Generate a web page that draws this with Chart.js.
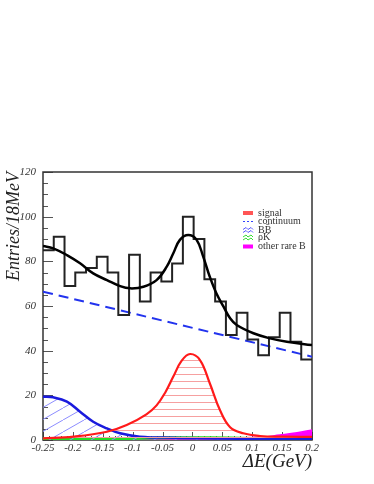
<!DOCTYPE html>
<html>
<head>
<meta charset="utf-8">
<script src="https://cdn.jsdelivr.net/npm/chart.js@4"></script>
<style>
  body { margin: 0; background: #fff; }
  #c { display: block; }
</style>
</head>
<body>
<canvas id="c" width="374" height="484"></canvas>
<script>
// histogram: 25 bins of 18 MeV from -0.25 to 0.2
const binStart = -0.25;
const binWidth = 0.018;
const counts = [85, 91, 69, 75, 77, 82, 75, 56, 83, 62, 75, 71, 79, 100, 90, 72, 62, 47, 57, 45, 38, 46, 57, 44, 36];

// fit components
const totalX = [-0.25, -0.233, -0.21, -0.188, -0.166, -0.143, -0.121, -0.104, -0.082, -0.06, -0.043, -0.032, -0.021, -0.007, 0.007, 0.018, 0.029, 0.04, 0.052, 0.063, 0.074, 0.102, 0.13, 0.158, 0.2];
const totalY = [86.9, 85.8, 82.8, 79.1, 74.6, 71.6, 68.9, 67.9, 68.6, 71.6, 77.6, 83.6, 89.6, 91.8, 89.6, 82.1, 73.1, 65.7, 59.7, 54.5, 51.5, 47.8, 45.5, 44, 42.5];

const contX = [-0.25, 0.2];
const contY = [66.4, 37.3];

const sigX = [-0.25, -0.199, -0.143, -0.11, -0.077, -0.06, -0.045, -0.032, -0.018, -0.004, 0.0126, 0.029, 0.046, 0.063, 0.085, 0.113, 0.15, 0.2];
const sigY = [0.7, 1.5, 3.7, 6.7, 11.5, 15.5, 21.5, 28.4, 35.5, 38.5, 35.8, 25.4, 13.4, 5.7, 3, 1.8, 1.5, 1.4];

const bbX = [-0.25, -0.233, -0.21, -0.188, -0.166, -0.143, -0.121, -0.088, -0.032, 0.05, 0.1, 0.2];
const bbY = [19.4, 19.1, 17.2, 12.7, 8.2, 5.2, 3, 1.5, 1.0, 0.7, 0.5, 0.3];

const rhoKX = [-0.25, -0.1, -0.03, 0.03, 0.1, 0.2];
const rhoKY = [0.5, 0.7, 1.0, 1.0, 0.7, 0.5];

const rareX = [-0.25, -0.1, 0, 0.074, 0.113, 0.146, 0.175, 0.2];
const rareY = [0.1, 0.3, 0.5, 0.9, 1.2, 2.2, 3.2, 4.5];

const xTickValues = [-0.25, -0.2, -0.15, -0.1, -0.05, 0, 0.05, 0.1, 0.15, 0.2];
const xTickLabels = ['-0.25', '-0.2', '-0.15', '-0.1', '-0.05', '0', '0.05', '0.1', '0.15', '0.2'];

const legendNames = ['signal', 'continuum', 'BB\u0304', '\u03c1K', 'other rare B'];

function pts(xs, ys) {
    return xs.map((x, i) => ({ x: x, y: ys[i] }));
}

// histogram points on bin edges, last one closes the final bin
const histPts = counts.map((n, i) => ({ x: binStart + i * binWidth, y: n }));
histPts.push({ x: binStart + counts.length * binWidth, y: counts[counts.length - 1] });

function hatch(color, kind) {
    const c = document.createElement('canvas');
    if (kind === 'h') { c.width = 8; c.height = 7; } else { c.width = 21; c.height = 12; }
    const g = c.getContext('2d');
    g.strokeStyle = color;
    g.lineWidth = 1;
    g.beginPath();
    if (kind === 'h') {
        g.moveTo(0, 3.5); g.lineTo(8, 3.5);
    } else {
        [[-21, 12], [0, 0], [21, -12]].forEach(([dx, dy]) => {
            g.moveTo(dx, 12 + dy); g.lineTo(dx + 21, dy);
        });
    }
    g.stroke();
    return g.createPattern(c, 'repeat');
}

const serif = "'Liberation Serif', 'DejaVu Serif', serif";

// box + inner ticks go under the curves, legend on top
const frame = {
    id: 'frame',
    beforeDatasetsDraw(chart) {
        const { ctx, chartArea: a, scales } = chart;
        const xs = scales.x, ys = scales.y;
        ctx.save();
        ctx.strokeStyle = '#555';
        ctx.lineWidth = 1;
        ctx.beginPath();
        for (let v = 0; v <= 120; v += 5) {
            const y = Math.round(ys.getPixelForValue(v)) + 0.5;
            const len = v % 20 === 0 ? 10 : 5;
            ctx.moveTo(a.left, y); ctx.lineTo(a.left + len, y);
        }
        for (let k = 0; k <= 45; k++) {
            const x = Math.round(xs.getPixelForValue(-0.25 + k * 0.01)) + 0.5;
            const len = k % 5 === 0 ? 8 : 4;
            ctx.moveTo(x, a.bottom); ctx.lineTo(x, a.bottom - len);
        }
        ctx.stroke();
        ctx.strokeStyle = '#333';
        ctx.lineWidth = 1.5;
        ctx.strokeRect(a.left, a.top, a.right - a.left, a.bottom - a.top);
        ctx.restore();
    },
    afterDraw(chart) {
        const ctx = chart.ctx;
        ctx.save();
        const lx = 243, tx = 258;
        const rows = [213, 221, 230, 237.5, 246.5];
        ctx.fillStyle = '#ff5555';
        ctx.fillRect(lx, rows[0] - 2, 10, 4);
        ctx.strokeStyle = '#3344ff';
        ctx.lineWidth = 1;
        ctx.setLineDash([2, 2]);
        ctx.beginPath(); ctx.moveTo(lx, rows[1] + 0.5); ctx.lineTo(lx + 10, rows[1] + 0.5); ctx.stroke();
        ctx.setLineDash([]);
        [[rows[2], '#5a5aff'], [rows[3], '#33dd33']].forEach(([y, col]) => {
            ctx.strokeStyle = col;
            ctx.beginPath();
            for (const off of [-1.5, 1.5]) {
                ctx.moveTo(lx, y + off + 1);
                ctx.lineTo(lx + 3, y + off - 1);
                ctx.lineTo(lx + 5, y + off + 1);
                ctx.lineTo(lx + 8, y + off - 1);
                ctx.lineTo(lx + 10, y + off + 1);
            }
            ctx.stroke();
        });
        ctx.fillStyle = '#ff00ff';
        ctx.fillRect(lx, rows[4] - 2, 10, 4);
        ctx.fillStyle = '#333';
        ctx.font = '10px ' + serif;
        ctx.textBaseline = 'middle';
        legendNames.forEach((t, i) => ctx.fillText(t, tx, rows[i]));
        ctx.restore();
    }
};

const common = { pointRadius: 0, tension: 0.4, fill: false };

new Chart(document.getElementById('c'), {
    type: 'line',
    data: {
        datasets: [
            { ...common, data: histPts, stepped: 'before', tension: 0, borderColor: '#222', borderWidth: 2, order: 2 },
            { ...common, data: pts(totalX, totalY), borderColor: '#000', borderWidth: 2.5, order: 1 },
            { ...common, data: pts(contX, contY), borderColor: '#2233ee', borderWidth: 2, borderDash: [10, 6], order: 3 },
            { ...common, data: pts(sigX, sigY), borderColor: '#ff1a1a', borderWidth: 2.2, fill: 'origin', backgroundColor: hatch('#f6a0a0', 'h'), order: 4 },
            { ...common, data: pts(bbX, bbY), borderColor: '#1a1add', borderWidth: 2.5, fill: 'origin', backgroundColor: hatch('#8c8cff', 'd'), order: 5 },
            { ...common, data: pts(rareX, rareY), borderColor: '#ff00ff', borderWidth: 1.5, fill: 'origin', backgroundColor: '#ff00ff', order: 7 },
            { ...common, data: pts(rhoKX, rhoKY), borderColor: '#22dd22', borderWidth: 3, order: 6 }
        ]
    },
    options: {
        responsive: false,
        animation: false,
        events: [],
        layout: { padding: { top: 172, right: 62, left: 0, bottom: 0 } },
        plugins: { legend: { display: false }, tooltip: { enabled: false } },
        scales: {
            x: {
                type: 'linear',
                min: -0.25,
                max: 0.2,
                afterFit(s) { s.height = 44; },
                afterBuildTicks(s) { s.ticks = xTickValues.map(v => ({ value: v })); },
                grid: { display: false, drawTicks: false },
                border: { display: false },
                ticks: {
                    padding: 2,
                    maxRotation: 0,
                    autoSkip: false,
                    color: '#333',
                    font: { family: serif, style: 'italic', size: 11 },
                    callback: (v, i) => xTickLabels[i]
                },
                title: {
                    display: true,
                    text: '\u0394E(GeV)',
                    align: 'end',
                    color: '#222',
                    padding: { top: 0, bottom: 11 },
                    font: { family: serif, style: 'italic', size: 19 }
                }
            },
            y: {
                min: 0,
                max: 120,
                afterFit(s) { s.width = 43; },
                grid: { display: false, drawTicks: false },
                border: { display: false },
                ticks: {
                    stepSize: 20,
                    padding: 7,
                    color: '#333',
                    font: { family: serif, style: 'italic', size: 11 }
                },
                title: {
                    display: true,
                    text: 'Entries/18MeV',
                    align: 'end',
                    color: '#222',
                    padding: { top: 3, bottom: 0 },
                    font: { family: serif, style: 'italic', size: 18 }
                }
            }
        }
    },
    plugins: [frame]
});
</script>
</body>
</html>
